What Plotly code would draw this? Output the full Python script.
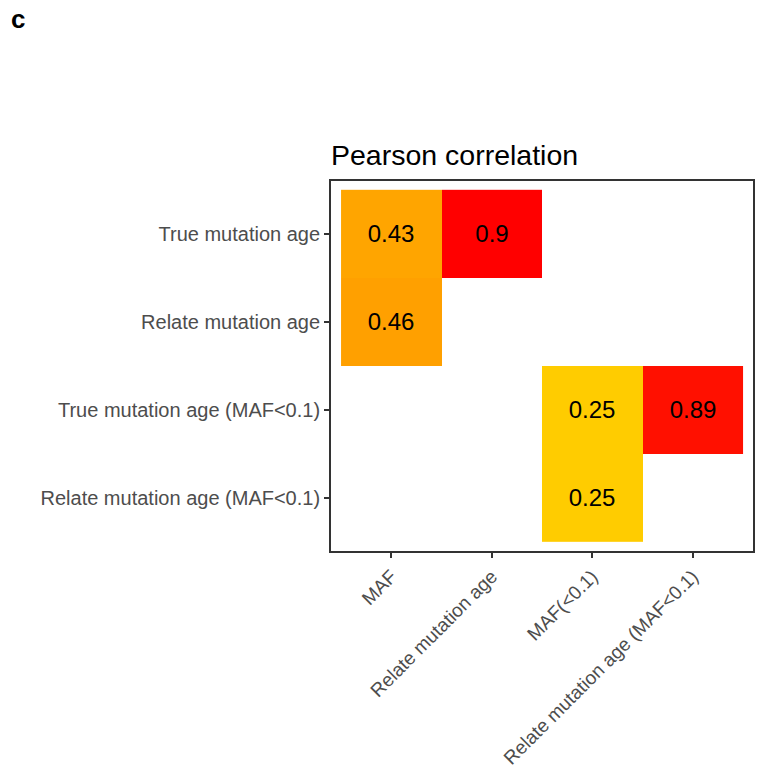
import plotly.graph_objects as go

x_labels = ["MAF", "Relate mutation age", "MAF(<0.1)", "Relate mutation age (MAF<0.1)"]
y_labels = ["True mutation age", "Relate mutation age",
            "True mutation age (MAF<0.1)", "Relate mutation age (MAF<0.1)"]
row_true = [0.43, 0.90, None, None]
row_relate = [0.46, None, None, None]
row_true_maf = [None, None, 0.25, 0.89]
row_relate_maf = [None, None, 0.25, None]

z = [row_true, row_relate, row_true_maf, row_relate_maf]
text = [["" if v is None else f"{v:g}" for v in row] for row in z]

zmin, zmax = 0.25, 0.90
stops = [(0.25, "#FFCC00"), (0.43, "#FFA500"), (0.46, "#FFA000"), (0.89, "#FF1000"), (0.90, "#FF0000")]
colorscale = [[(v - zmin) / (zmax - zmin), c] for v, c in stops]

FONT = "Liberation Sans, Arial, sans-serif"

fig = go.Figure(go.Heatmap(
    x=list(range(len(x_labels))), y=list(range(len(y_labels))), z=z,
    text=text, texttemplate="%{text}",
    textfont=dict(size=24, color="black", family=FONT),
    colorscale=colorscale, zmin=zmin, zmax=zmax, showscale=False,
    hoverongaps=False,
))

axis_common = dict(
    showgrid=False, zeroline=False, showline=True, mirror=True,
    linecolor="#333333", linewidth=1.8, automargin=False,
    ticks="outside", ticklen=5, tickwidth=1.8, tickcolor="#333333",
)
fig.update_xaxes(**axis_common, tickmode="array", tickvals=list(range(len(x_labels))),
                 ticktext=x_labels, tickangle=-45, range=[-0.6, len(x_labels) - 0.4],
                 tickfont=dict(size=19, color="#4D4D4D", family=FONT))
fig.update_yaxes(**axis_common, tickmode="array", tickvals=list(range(len(y_labels))),
                 ticktext=y_labels, range=[len(y_labels) - 0.4, -0.6],
                 tickfont=dict(size=20, color="#4D4D4D", family=FONT))

fig.update_layout(
    width=760, height=772,
    margin=dict(l=331, r=7, t=181, b=221),
    plot_bgcolor="white", paper_bgcolor="white",
    font=dict(family=FONT),
    title=dict(text="Pearson correlation", x=331 / 760, xanchor="left",
               y=1 - 155 / 772, yanchor="middle",
               font=dict(size=28.5, color="black")),
)
fig.add_annotation(text="<b>c</b>", xref="paper", yref="paper",
                   x=-331 / 422 + 9 / 422, y=1 + (181 - 19) / 370,
                   xanchor="left", yanchor="middle", showarrow=False,
                   font=dict(size=26, color="black"))

fig.write_html("out.html")
